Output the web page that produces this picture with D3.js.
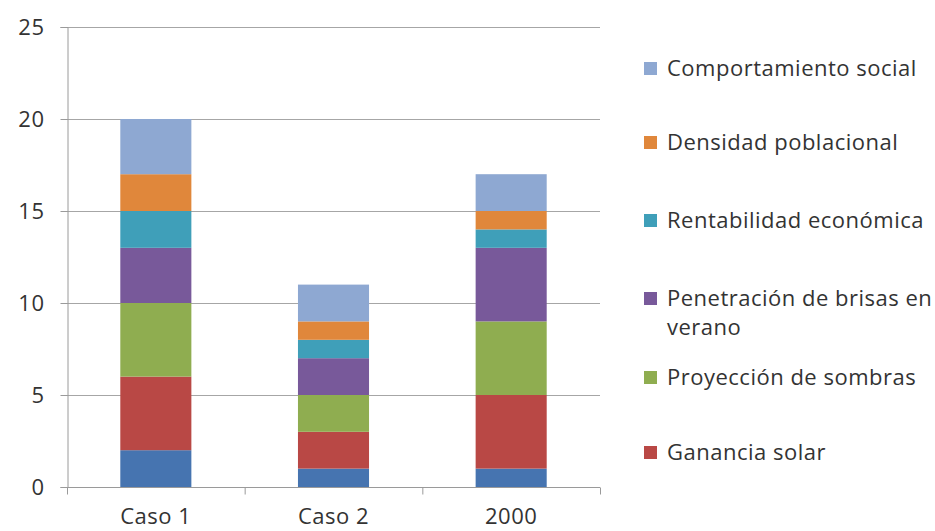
<!DOCTYPE html>
<html>
<head>
<meta charset="utf-8">
<script src="https://cdn.jsdelivr.net/npm/d3@7"></script>
<style>
  html, body { margin: 0; padding: 0; background: #fff; }
  svg { display: block; }
  text { font-family: "Open Sans", Lato, sans-serif; fill: #333; letter-spacing: 0.5px; }
</style>
</head>
<body>
<svg id="chart" width="935" height="531"></svg>
<script>
// Categories along the x axis
const categories = ["Caso 1", "Caso 2", "2000"];

// Series, stacked from the bottom up
const seriesKeys = ["base", "ganancia", "sombras", "brisas", "rentabilidad", "densidad", "social"];
const seriesNames = ["", "Ganancia solar", "Proyección de sombras", "Penetración de brisas en verano",
  "Rentabilidad económica", "Densidad poblacional", "Comportamiento social"];
const base         = [2, 1, 1];
const ganancia     = [4, 2, 4];
const sombras      = [4, 2, 4];
const brisas       = [3, 2, 4];
const rentabilidad = [2, 1, 1];
const densidad     = [2, 1, 1];
const social       = [3, 2, 2];
const seriesValues = [base, ganancia, sombras, brisas, rentabilidad, densidad, social];

const yTicks = [0, 5, 10, 15, 20, 25];
const colors = ["#4674b0", "#b94845", "#8fad50", "#78599a", "#3f9fb9", "#e0873b", "#8ea8d2"];

const rows = categories.map((c, i) => {
  const r = { category: c };
  seriesKeys.forEach((k, j) => { r[k] = seriesValues[j][i]; });
  return r;
});
const stacked = d3.stack().keys(seriesKeys)(rows);

const svg = d3.select("#chart");
const m = { left: 67, right: 600, top: 27, bottom: 487 };
const FS = "22px";

const x = d3.scaleBand().domain(categories).range([m.left, m.right]).paddingInner(0.6).paddingOuter(0.3);
const y = d3.scaleLinear().domain([0, 25]).range([m.bottom, m.top]);

// horizontal gridlines
svg.append("g").selectAll("line").data(yTicks.filter(t => t > 0)).join("line")
  .attr("x1", m.left).attr("x2", m.right)
  .attr("y1", d => y(d) + 0.5).attr("y2", d => y(d) + 0.5)
  .attr("stroke", "#a6a6a6").attr("stroke-width", 1);

// stacked bars
svg.append("g").selectAll("g").data(stacked).join("g")
  .attr("fill", (d, i) => colors[i])
  .selectAll("rect").data(d => d).join("rect")
  .attr("x", d => x(d.data.category))
  .attr("width", x.bandwidth())
  .attr("y", d => y(d[1]))
  .attr("height", d => y(d[0]) - y(d[1]));

// y axis
const yAxis = svg.append("g").attr("transform", `translate(${m.left + 0.5},0)`)
  .call(d3.axisLeft(y).tickValues(yTicks).tickSize(7).tickPadding(16));
yAxis.select(".domain").attr("stroke", "#9a9a9a");
yAxis.selectAll(".tick line").attr("stroke", "#9a9a9a");
yAxis.selectAll(".tick text").style("font-size", FS).attr("fill", "#333");

// x axis with tick marks at the category boundaries
const xAxisG = svg.append("g").attr("transform", `translate(0,${m.bottom + 0.5})`);
xAxisG.append("line").attr("x1", m.left).attr("x2", m.right).attr("stroke", "#9a9a9a");
const step = (m.right - m.left) / categories.length;
const bounds = d3.range(categories.length + 1).map(i => m.left + i * step);
xAxisG.selectAll("line.tk").data(bounds).join("line").attr("class", "tk")
  .attr("x1", d => d + 0.5).attr("x2", d => d + 0.5).attr("y1", 0).attr("y2", 7)
  .attr("stroke", "#9a9a9a");
xAxisG.selectAll("text").data(categories).join("text")
  .attr("x", d => x(d) + x.bandwidth() / 2).attr("y", 36)
  .attr("text-anchor", "middle").style("font-size", FS).text(d => d);

// legend, top entry first
const legendItems = seriesKeys.map((k, i) => ({ name: seriesNames[i], color: colors[i], idx: i }))
  .filter(d => d.name).reverse();
const legendY = [68, 142, 220, 298, 377, 452];
const lg = svg.append("g").selectAll("g").data(legendItems).join("g")
  .attr("transform", (d, i) => `translate(644,${legendY[i]})`);
lg.append("rect").attr("x", 0).attr("y", -6).attr("width", 13).attr("height", 13).attr("fill", d => d.color);
lg.each(function(d) {
  const g = d3.select(this);
  const lines = d.name === "Penetración de brisas en verano"
    ? ["Penetración de brisas en", "verano"] : [d.name];
  lines.forEach((t, j) => {
    g.append("text").attr("x", 23).attr("y", 8 + j * 29).style("font-size", FS).text(t);
  });
});
</script>
</body>
</html>
